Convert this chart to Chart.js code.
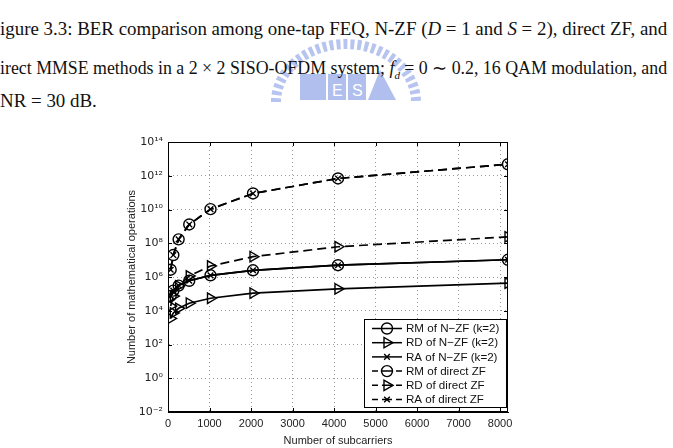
<!DOCTYPE html>
<html>
<head>
<meta charset="utf-8">
<script src="https://cdn.jsdelivr.net/npm/chart.js@4.4.1/dist/chart.umd.min.js"></script>
<style>
  html, body { margin: 0; padding: 0; background: #fff; }
  #page { position: relative; width: 673px; height: 448px; overflow: hidden; }
  .cap { position: absolute; left: 0; white-space: nowrap; font-family: "Liberation Serif", "Times New Roman", serif; font-size: 17.5px; color: #111; line-height: 1; }
  #mark { position: absolute; left: 266px; top: 36px; }
  #chartBox { position: absolute; left: 0; top: 0; width: 673px; height: 448px; }
</style>
</head>
<body>
<div id="page">
  <svg id="mark" width="160" height="70" viewBox="0 0 160 70">
    <path d="M10 66 A70 58 0 0 1 150 66" fill="none" stroke="#b6c4ef" stroke-width="10" stroke-dasharray="4 3"/>
    <rect x="34" y="38" width="26" height="26" fill="#b0bfee"/>
    <rect x="62" y="38" width="18" height="26" fill="#b0bfee"/>
    <rect x="82" y="38" width="18" height="26" fill="#b0bfee"/>
    <path d="M102 64 L114 34 L130 64 Z" fill="#b0bfee"/>
    <text x="66" y="60" font-family="Liberation Sans" font-size="16" fill="#fff">E</text>
    <text x="86" y="60" font-family="Liberation Sans" font-size="16" fill="#fff">S</text>
  </svg>
  <div class="cap" id="l1" style="top:20px">igure 3.3: BER comparison among one-tap FEQ, N-ZF (<i>D</i> = 1 and <i>S</i> = 2), direct ZF, and</div>
  <div class="cap" id="l2" style="top:60px">irect MMSE methods in a 2 × 2 SISO-OFDM system; <i>f<sub style="font-size:11px">d</sub></i> = 0 ∼ 0.2, 16 QAM modulation, and</div>
  <div class="cap" id="l3" style="top:92px">NR = 30 dB.</div>
  <div id="chartBox"><canvas id="canva1" width="673" height="448"></canvas></div>
</div>
<script>
// number of subcarriers
let subcarriers = [64, 128, 256, 512, 1024, 2048, 4096, 8192];
// N-ZF (k=2)
let rmNzf = [7.6e4, 1.55e5, 3.1e5, 6.0e5, 1.26e6, 2.5e6, 5.0e6, 1.05e7];
let rdNzf = [3.5e3, 7.4e3, 1.4e4, 2.8e4, 5.5e4, 1.1e5, 2.0e5, 4.3e5];
let raNzf = [7.6e4, 1.55e5, 3.1e5, 6.0e5, 1.26e6, 2.5e6, 5.0e6, 1.05e7];
// direct ZF
let rmDirect = [2.7e6, 2.0e7, 1.7e8, 1.3e9, 1.05e10, 8.9e10, 6.9e11, 4.8e12];
let rdDirect = [1.9e4, 7.4e4, 3.0e5, 1.15e6, 4.5e6, 1.6e7, 6.2e7, 2.4e8];
let raDirect = [2.7e6, 2.0e7, 1.7e8, 1.3e9, 1.05e10, 8.9e10, 6.9e11, 4.8e12];

let xTicks = [0, 1000, 2000, 3000, 4000, 5000, 6000, 7000, 8000];
let yTicks = [1e-2, 1, 1e2, 1e4, 1e6, 1e8, 1e10, 1e12, 1e14];
let seriesNames = ["RM of N\u2212ZF (k=2)", "RD of N\u2212ZF (k=2)", "RA of N\u2212ZF (k=2)",
                   "RM of direct ZF", "RD of direct ZF", "RA of direct ZF"];

// stretch caption lines to the page width
["l1", "l2"].forEach(function(id){
    let el = document.getElementById(id);
    let w = el.getBoundingClientRect().width;
    el.style.fontSize = (17.5 * 668 / w) + "px";
});
document.getElementById("l3").style.fontSize = document.getElementById("l1").style.fontSize;

function sup(n){
    let map = {"-": "\u207B", "0": "\u2070", "1": "\u00B9", "2": "\u00B2", "3": "\u00B3", "4": "\u2074",
               "5": "\u2075", "6": "\u2076", "7": "\u2077", "8": "\u2078", "9": "\u2079"};
    return String(n).split("").map(function(c){ return map[c]; }).join("");
}

function pts(ys){
    return subcarriers.map(function(x, i){ return {x: x, y: ys[i]}; });
}

function makeSet(i, ys, style, dashed){
    return {
        label: seriesNames[i],
        data: pts(ys),
        borderColor: "#000",
        borderWidth: 1.7,
        borderDash: dashed ? [9, 5] : [],
        pointStyle: style,
        pointRotation: style == "triangle" ? 90 : 0,
        pointRadius: style == "crossRot" ? 4 : (style == "triangle" ? 6 : 5.5),
        pointBorderColor: "#000",
        pointBackgroundColor: "rgba(0,0,0,0)",
        pointBorderWidth: 1.4,
        fill: false,
        tension: 0
    };
}

// frame, inner ticks and legend box
let framePlugin = {
    id: "frame",
    afterDraw: function(chart){
        let ctx = chart.ctx;
        let a = chart.chartArea;
        let xs = chart.scales.x, ys = chart.scales.y;
        ctx.save();
        ctx.strokeStyle = "#000";
        ctx.lineWidth = 1;
        ctx.setLineDash([]);
        ctx.strokeRect(a.left + 0.5, a.top + 0.5, a.right - a.left - 1, a.bottom - a.top - 1);
        ctx.beginPath();
        xTicks.forEach(function(t){
            let px = Math.round(xs.getPixelForValue(t)) + 0.5;
            ctx.moveTo(px, a.bottom); ctx.lineTo(px, a.bottom - 4);
            ctx.moveTo(px, a.top); ctx.lineTo(px, a.top + 4);
        });
        yTicks.forEach(function(t){
            let py = Math.round(ys.getPixelForValue(t)) + 0.5;
            ctx.moveTo(a.left, py); ctx.lineTo(a.left + 4, py);
            ctx.moveTo(a.right, py); ctx.lineTo(a.right - 4, py);
        });
        ctx.stroke();

        // legend
        let bx = 364, by = 319, bw = 142, bh = 88;
        ctx.fillStyle = "#fff";
        ctx.fillRect(bx, by, bw, bh);
        ctx.strokeRect(bx + 0.5, by + 0.5, bw, bh);
        ctx.font = "11.6px 'Liberation Sans', Arial, sans-serif";
        ctx.textBaseline = "middle";
        chart.data.datasets.forEach(function(ds, i){
            let cy = by + 9.5 + i * 14.2;
            let mx = 387;
            ctx.strokeStyle = "#000";
            ctx.lineWidth = 1.5;
            ctx.beginPath();
            if (ds.borderDash.length){
                ctx.moveTo(372, cy); ctx.lineTo(378, cy);
                ctx.moveTo(382, cy); ctx.lineTo(392, cy);
                ctx.moveTo(396, cy); ctx.lineTo(402, cy);
            } else {
                ctx.moveTo(372, cy); ctx.lineTo(402, cy);
            }
            ctx.stroke();
            ctx.lineWidth = 1.4;
            ctx.fillStyle = "rgba(0,0,0,0)";
            Chart.helpers.drawPoint(ctx, {
                pointStyle: ds.pointStyle,
                rotation: ds.pointRotation,
                radius: ds.pointRadius,
                borderWidth: 1.4
            }, mx, cy);
            ctx.fillStyle = "#111";
            ctx.fillText(ds.label, 406, cy + 0.5);
        });
        ctx.restore();
    }
};

window.onload = function(){
    let canva1 = document.getElementById("canva1");
    let grafico1 = new Chart(canva1, {
        type: "line",
        data: {
            datasets: [
                makeSet(0, rmNzf, "circle", false),
                makeSet(1, rdNzf, "triangle", false),
                makeSet(2, raNzf, "crossRot", false),
                makeSet(3, rmDirect, "circle", true),
                makeSet(4, rdDirect, "triangle", true),
                makeSet(5, raDirect, "crossRot", true)
            ]
        },
        options: {
            responsive: false,
            animation: false,
            layout: { padding: { left: 121, top: 142, right: 165, bottom: 0 } },
            plugins: {
                legend: { display: false },
                tooltip: { enabled: false }
            },
            scales: {
                x: {
                    type: "linear",
                    min: 0,
                    max: 8192,
                    afterBuildTicks: function(s){ s.ticks = xTicks.map(function(v){ return {value: v}; }); },
                    afterFit: function(s){ s.height = 36; },
                    grid: { color: "#9a9a9a", lineWidth: 1, drawTicks: false },
                    border: { display: true, color: "#000", dash: [1, 3] },
                    ticks: {
                        padding: 5,
                        maxRotation: 0,
                        color: "#222",
                        font: { family: "'Liberation Sans', Arial, sans-serif", size: 11 },
                        callback: function(v){ return String(v); }
                    },
                    title: {
                        display: true,
                        text: "Number of subcarriers",
                        color: "#222",
                        padding: { top: 0, bottom: 0 },
                        font: { family: "'Liberation Sans', Arial, sans-serif", size: 11 }
                    }
                },
                y: {
                    type: "logarithmic",
                    min: 1e-2,
                    max: 1e14,
                    afterBuildTicks: function(s){ s.ticks = yTicks.map(function(v){ return {value: v}; }); },
                    afterFit: function(s){ s.width = 47; },
                    grid: { color: "#9a9a9a", lineWidth: 1, drawTicks: false },
                    border: { display: true, color: "#000", dash: [1, 3] },
                    ticks: {
                        padding: 5,
                        color: "#222",
                        font: { family: "'DejaVu Sans', 'Liberation Sans', sans-serif", size: 11 },
                        callback: function(v){ return "10" + sup(Math.round(Math.log10(v))); }
                    },
                    title: {
                        display: true,
                        text: "Number of mathematical operations",
                        color: "#222",
                        padding: { top: 4, bottom: 0 },
                        font: { family: "'Liberation Sans', Arial, sans-serif", size: 11 }
                    }
                }
            }
        },
        plugins: [framePlugin]
    });
};
</script>
</body>
</html>
